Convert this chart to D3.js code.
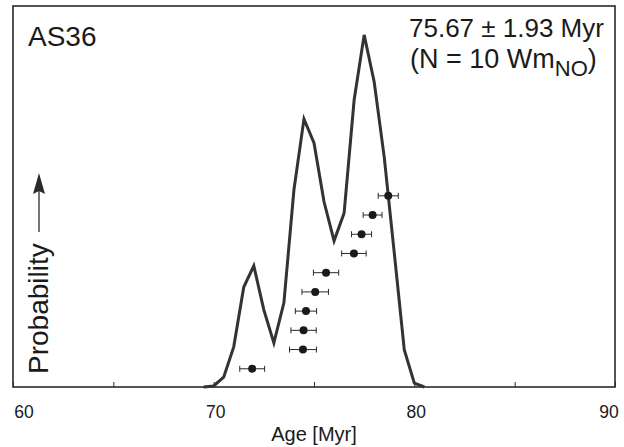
<!DOCTYPE html>
<html>
<head>
<meta charset="utf-8">
<script src="https://cdn.jsdelivr.net/npm/d3@7"></script>
<style>
  html, body { margin: 0; padding: 0; background: #fff; }
  svg { display: block; font-family: "Liberation Sans", Arial, Helvetica, sans-serif; }
</style>
</head>
<body>
<svg id="chart" width="624" height="447"></svg>
<script>
// Probability density curve (relative units, peak = 1), sampled every 0.5 Myr
const curveAges = [69.5, 70, 70.5, 71, 71.5, 72, 72.5, 73, 73.5, 74, 74.5, 75,
                   75.5, 76, 76.5, 77, 77.5, 78, 78.5, 79, 79.5, 80, 80.5];
const curveProb = [0, 0.003, 0.028, 0.114, 0.284, 0.344, 0.219, 0.125, 0.239, 0.560, 0.761, 0.693,
                   0.526, 0.415, 0.494, 0.815, 1.0, 0.866, 0.653, 0.381, 0.105, 0.011, 0];

// Single-grain ages (Myr) with 1-sigma errors, ordered by age
const grainAges = [71.92, 74.45, 74.48, 74.60, 75.06, 75.60, 76.99, 77.37, 77.92, 78.70];
const grainErrs = [0.62, 0.67, 0.63, 0.53, 0.66, 0.63, 0.61, 0.50, 0.47, 0.50];

// Axis ticks and labels
const tickValues = [60, 65, 70, 75, 80, 85, 90];
const labelValues = [60, 70, 80, 90];

const sampleName = "AS36";
const meanAge = "75.67 ± 1.93 Myr";

const svg = d3.select("#chart");
const frame = { left: 13, right: 615, top: 6, bottom: 387 };

const x = d3.scaleLinear().domain([60, 90]).range([frame.left, frame.right]);
const y = d3.scaleLinear().domain([0, 1.082]).range([frame.bottom, frame.top]);
// vertical stacking of the grains by rank
const yRank = d3.scaleLinear().domain([0, 20]).range([388, 3.6]);

const ink = "#2a2a2a";

// frame
svg.append("rect")
  .attr("x", frame.left).attr("y", frame.top)
  .attr("width", frame.right - frame.left).attr("height", frame.bottom - frame.top)
  .attr("fill", "none").attr("stroke", ink).attr("stroke-width", 1.6);

// bottom axis: inward ticks
const axis = d3.axisTop(x).tickValues(tickValues).tickSize(5).tickFormat("");
const gAxis = svg.append("g").attr("transform", `translate(0,${frame.bottom})`).call(axis);
gAxis.select(".domain").remove();
gAxis.selectAll(".tick line").attr("stroke", ink).attr("stroke-width", 1);

// tick labels
const gLab = svg.append("g");
gLab.selectAll("text").data(labelValues).join("text")
  .attr("x", d => x(d))
  .attr("dx", (d, i) => i === 0 ? 11 : (i === labelValues.length - 1 ? -6 : 2))
  .attr("y", 418)
  .attr("text-anchor", "middle")
  .attr("font-size", 17.5)
  .attr("fill", "#1a1a1a")
  .text(d => d);

// x-axis title
svg.append("text")
  .attr("x", x(75)).attr("y", 441)
  .attr("text-anchor", "middle")
  .attr("font-size", 20)
  .attr("fill", "#1a1a1a")
  .text("Age [Myr]");

// density curve
const line = d3.line().x((d, i) => x(curveAges[i])).y(d => y(d));
svg.append("path")
  .datum(curveProb)
  .attr("d", line)
  .attr("fill", "none")
  .attr("stroke", "#333")
  .attr("stroke-width", 3)
  .attr("stroke-linejoin", "miter");

// grain ages with error bars
const grains = grainAges.map((a, i) => ({ age: a, err: grainErrs[i], rank: i + 1 }));
const gG = svg.append("g");
const capH = 3;
gG.selectAll("g.grain").data(grains).join("g").attr("class", "grain").each(function (d) {
  const g = d3.select(this);
  const cy = yRank(d.rank);
  g.append("line")
    .attr("x1", x(d.age - d.err)).attr("x2", x(d.age + d.err))
    .attr("y1", cy).attr("y2", cy)
    .attr("stroke", ink).attr("stroke-width", 1);
  [d.age - d.err, d.age + d.err].forEach(v => {
    g.append("line")
      .attr("x1", x(v)).attr("x2", x(v))
      .attr("y1", cy - capH).attr("y2", cy + capH)
      .attr("stroke", ink).attr("stroke-width", 1);
  });
  g.append("circle")
    .attr("cx", x(d.age)).attr("cy", cy).attr("r", 4)
    .attr("fill", "#1a1a1a");
});

// sample name
svg.append("text")
  .attr("x", 28).attr("y", 46)
  .attr("font-size", 28)
  .attr("fill", "#1a1a1a")
  .text(sampleName);

// mean age annotation
svg.append("text")
  .attr("x", 409).attr("y", 37)
  .attr("font-size", 26)
  .attr("fill", "#1a1a1a")
  .text(meanAge);

const nLine = svg.append("text")
  .attr("x", 410).attr("y", 68)
  .attr("font-size", 27)
  .attr("fill", "#1a1a1a");
nLine.append("tspan").text("(N = 10 Wm");
nLine.append("tspan").attr("dy", 8).attr("font-size", 22).text("NO");
nLine.append("tspan").attr("dy", -8).text(")");

// y-axis label with arrow
svg.append("text")
  .attr("transform", "translate(48,374) rotate(-90)")
  .attr("font-size", 28)
  .attr("fill", "#1a1a1a")
  .text("Probability");

svg.append("line")
  .attr("x1", 39).attr("x2", 39).attr("y1", 232).attr("y2", 190)
  .attr("stroke", ink).attr("stroke-width", 1.3);
svg.append("path")
  .attr("d", "M39,173 L45,194 L39,191 L33,194 Z")
  .attr("fill", ink);
</script>
</body>
</html>
